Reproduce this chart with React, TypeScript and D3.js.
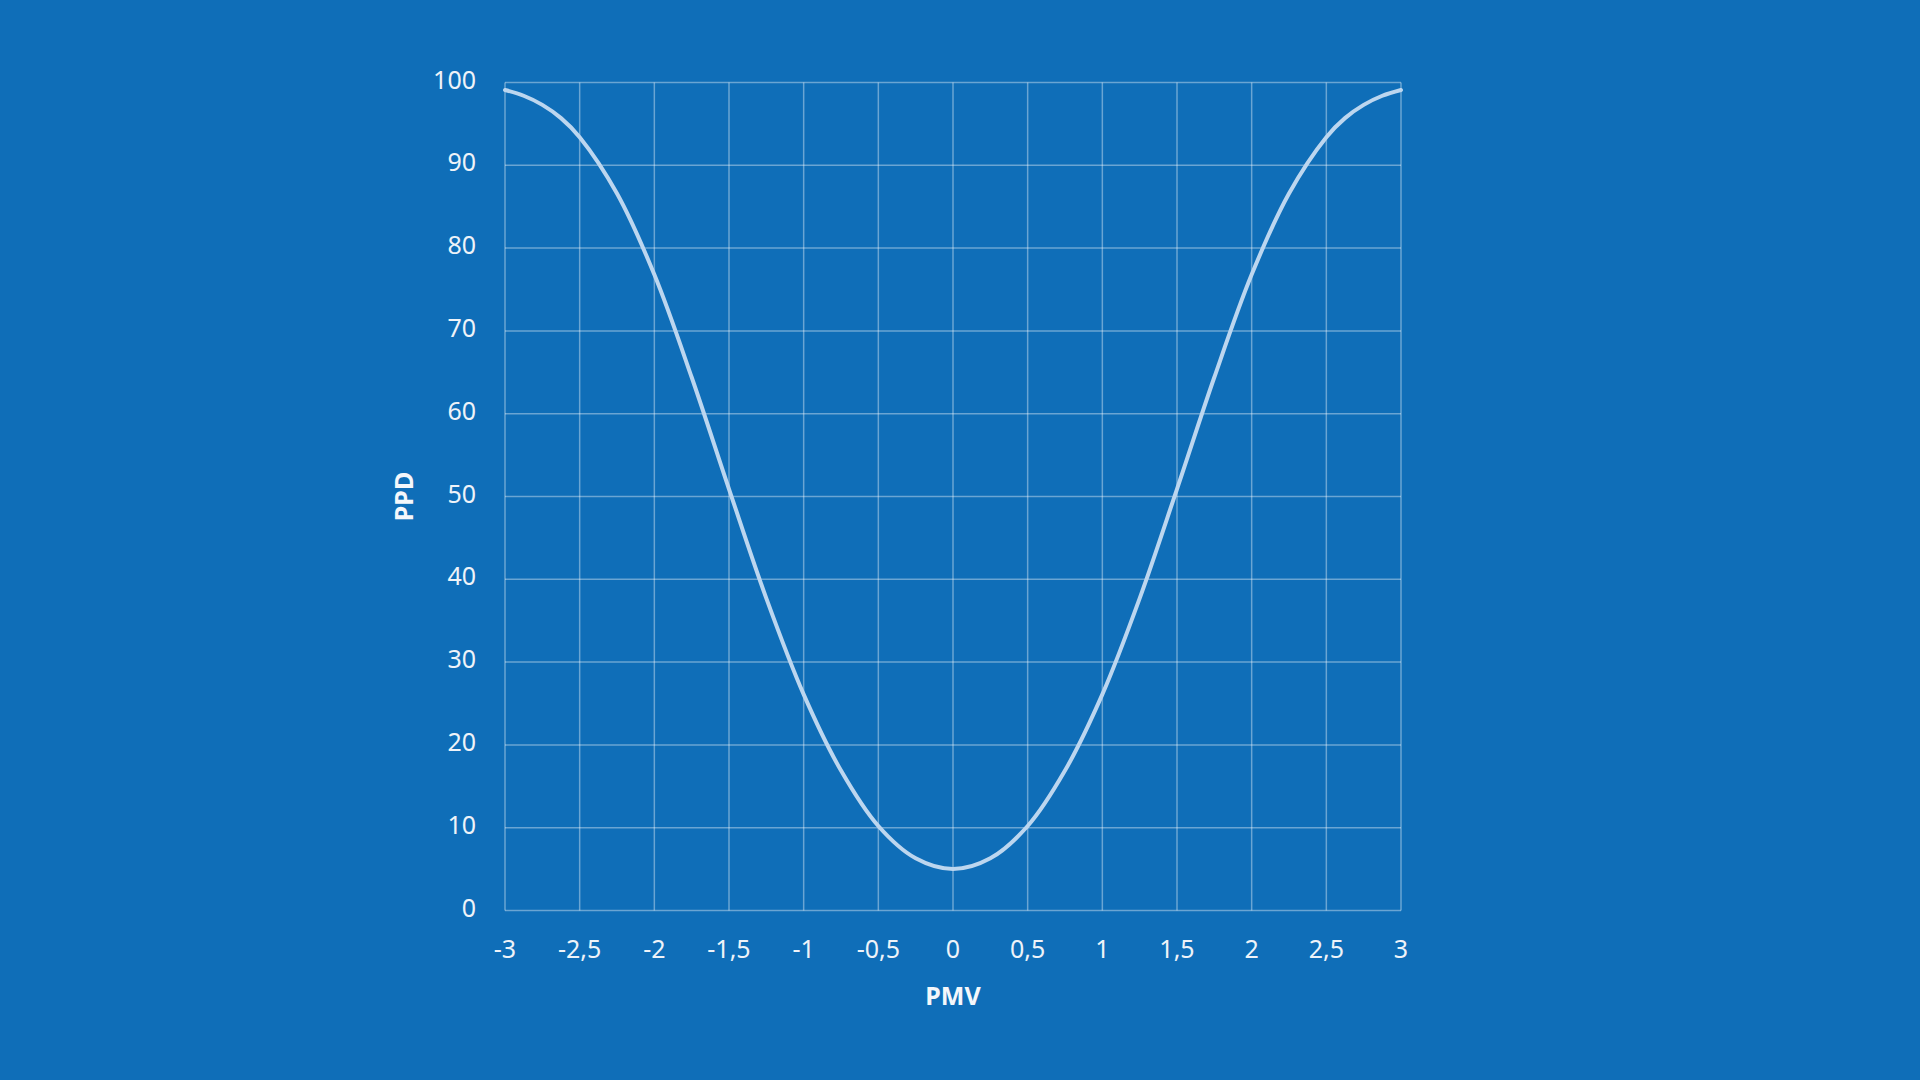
import React from "react";
import * as d3 from "d3";

const pmv = [-3, -2.875, -2.75, -2.625, -2.5, -2.25, -2, -1.75, -1.5, -1.25, -1, -0.75, -0.5, -0.25, 0, 0.25, 0.5, 0.75, 1, 1.25, 1.5, 1.75, 2, 2.25, 2.5, 2.625, 2.75, 2.875, 3];
const ppd = [99.1, 98.4, 97.3, 95.7, 93.4, 86.6, 76.8, 64.4, 50.9, 37.7, 26.1, 16.9, 10.2, 6.3, 5, 6.3, 10.2, 16.9, 26.1, 37.7, 50.9, 64.4, 76.8, 86.6, 93.4, 95.7, 97.3, 98.4, 99.1];
const xTicks = [-3, -2.5, -2, -1.5, -1, -0.5, 0, 0.5, 1, 1.5, 2, 2.5, 3];
const yTicks = [0, 10, 20, 30, 40, 50, 60, 70, 80, 90, 100];

export default function App() {
  const W = 1920, H = 1080;
  const left = 505, right = 1401, top = 82.5, bottom = 910.5;
  const x = d3.scaleLinear().domain([-3, 3]).range([left, right]);
  const y = d3.scaleLinear().domain([0, 100]).range([bottom, top]);
  const pts = pmv.map((v, i) => [v, ppd[i]] as [number, number]);
  const line = d3.line<[number, number]>().x(d => x(d[0])).y(d => y(d[1])).curve(d3.curveCatmullRom.alpha(0.5));
  const fmt = (v: number) => String(v).replace(".", ",");
  const font = "'Noto Sans', 'Open Sans', sans-serif";
  const grid = "rgba(255,255,255,0.38)";
  return (
    <svg width={W} height={H} style={{ position: "absolute", left: 0, top: 0, display: "block" }}>
      <rect x={0} y={0} width={W} height={H} fill="#0F6EB8" />
      {xTicks.map(t => (
        <line key={"gx" + t} x1={x(t)} x2={x(t)} y1={top} y2={bottom} stroke={grid} strokeWidth={1.5} />
      ))}
      {yTicks.map(t => (
        <line key={"gy" + t} x1={left} x2={right} y1={y(t)} y2={y(t)} stroke={grid} strokeWidth={1.5} />
      ))}
      <path d={line(pts) || ""} fill="none" stroke="#BCD6EF" strokeWidth={4} strokeLinecap="round" />
      {yTicks.map(t => (
        <text key={"ty" + t} x={476} y={y(t) - 4} textAnchor="end" dominantBaseline="central" fill="#EEF3F9" fontFamily={font} fontSize={25}>{fmt(t)}</text>
      ))}
      {xTicks.map(t => (
        <text key={"tx" + t} x={x(t)} y={948} textAnchor="middle" dominantBaseline="central" fill="#EEF3F9" fontFamily={font} fontSize={25}>{fmt(t)}</text>
      ))}
      <text x={953} y={995} textAnchor="middle" dominantBaseline="central" fill="#F4F7FB" fontFamily={font} fontSize={25} fontWeight="bold">PMV</text>
      <text transform={`translate(403,${(top + bottom) / 2}) rotate(-90)`} textAnchor="middle" dominantBaseline="central" fill="#F4F7FB" fontFamily={font} fontSize={25} fontWeight="bold">PPD</text>
    </svg>
  );
}
